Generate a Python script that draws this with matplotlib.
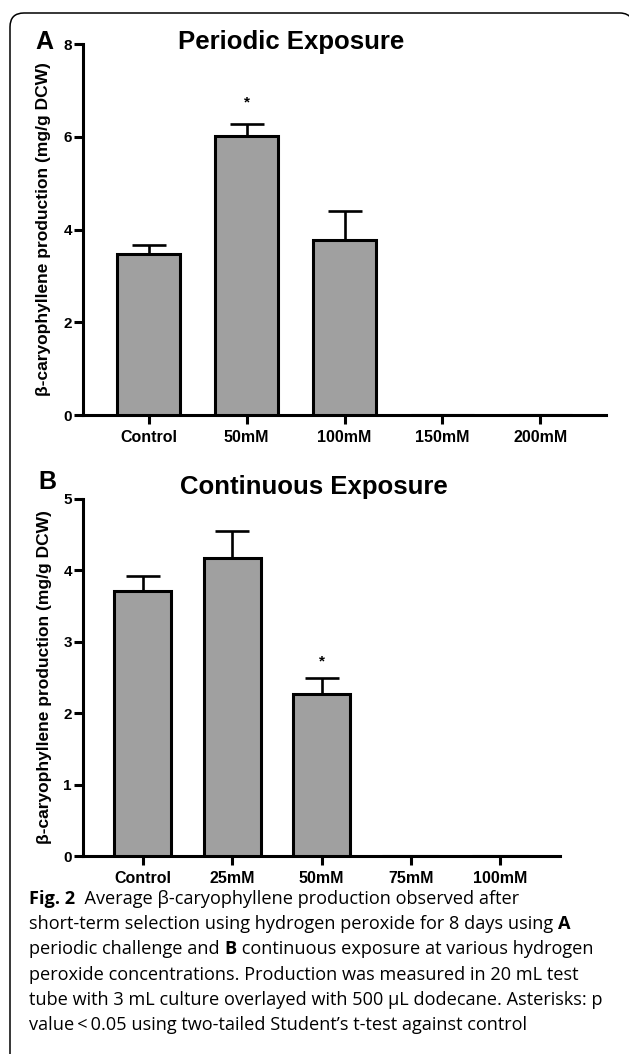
import matplotlib
matplotlib.use("Agg")
import matplotlib.pyplot as plt
import numpy as np
from matplotlib.patches import PathPatch
from matplotlib.path import Path

W, H = 629, 1054

# panel A: periodic exposure
cats_a = ["Control", "50mM", "100mM", "150mM", "200mM"]
vals_a = [3.48, 6.02, 3.77, 0.0, 0.0]
err_a = [0.19, 0.26, 0.62, 0.0, 0.0]
star_a = {1: 6.73}

# panel B: continuous exposure
cats_b = ["Control", "25mM", "50mM", "75mM", "100mM"]
vals_b = [3.71, 4.17, 2.27, 0.0, 0.0]
err_b = [0.21, 0.38, 0.23, 0.0, 0.0]
star_b = {2: 2.72}

ylabel = "β-caryophyllene production (mg/g DCW)"
caption = [
    [("Fig. 2", "bold"), ("  Average β-caryophyllene production observed after", "normal")],
    [("short-term selection using hydrogen peroxide for 8 days using ", "normal"), ("A", "bold")],
    [("periodic challenge and ", "normal"), ("B", "bold"),
     (" continuous exposure at various hydrogen", "normal")],
    [("peroxide concentrations. Production was measured in 20 mL test", "normal")],
    [("tube with 3 mL culture overlayed with 500 µL dodecane. Asterisks: p", "normal")],
    [("value\u2009<\u20090.05 using two-tailed Student’s t-test against control", "normal")],
]

plt.rcParams["font.family"] = ["Liberation Sans", "DejaVu Sans"]
LW = 2.2


def fx(x):
    return x / W


def fy(y):
    return 1 - y / H


def panel(rect_px, cats, vals, errs, stars, ymax, yticks, title, letter, title_xy, letter_xy, lab_x):
    l, t, r, b = rect_px
    ax = fig.add_axes([fx(l), fy(b), fx(r) - fx(l), fy(t) - fy(b)])
    x = np.arange(len(cats))
    ax.errorbar(x, vals, yerr=[np.zeros(len(errs)), errs], fmt="none", ecolor="black",
                elinewidth=1.9, capsize=12, capthick=1.9, zorder=2)
    ax.bar(x, vals, width=0.64, color="#a0a0a0", edgecolor="black", linewidth=LW, zorder=3)
    for i, y in stars.items():
        ax.text(i, y, "*", ha="center", va="center", fontsize=11, fontweight="bold")
    ax.set_xlim(-0.67, len(cats) - 0.33)
    ax.set_ylim(0, ymax)
    ax.set_yticks(yticks)
    ax.set_xticks(x)
    ax.set_xticklabels(cats, fontsize=11.5, fontweight="bold")
    for lab in ax.get_yticklabels():
        lab.set_fontsize(11)
        lab.set_fontweight("bold")
    ax.tick_params(axis="y", width=LW, length=6.5, pad=1.5)
    ax.tick_params(axis="x", width=LW, length=6.5, pad=4)
    for s in ("top", "right"):
        ax.spines[s].set_visible(False)
    for s in ("left", "bottom"):
        ax.spines[s].set_linewidth(LW)
    ax.set_ylabel(ylabel, fontsize=12.5, fontweight="bold", va="center")
    ax.yaxis.set_label_coords((lab_x - l) / (r - l), 0.5)
    fig.text(fx(title_xy[0]), fy(title_xy[1]), title, ha="center", va="center",
             fontsize=18.5, fontweight="bold")
    fig.text(fx(letter_xy[0]), fy(letter_xy[1]), letter, ha="center", va="center",
             fontsize=18, fontweight="bold")
    return ax


fig = plt.figure(figsize=(W / 100, H / 100), dpi=100)

# rounded frame: left side and top edge only, the rest runs off the page
frame = fig.add_axes([0, 0, 1, 1], zorder=-1)
frame.set_xlim(0, W)
frame.set_ylim(H, 0)
frame.axis("off")
verts = [(10, H + 10), (10, 27), (10, 13), (24, 13), (620, 13), (628, 13), (632, 19)]
codes = [Path.MOVETO, Path.LINETO, Path.CURVE3, Path.CURVE3, Path.LINETO, Path.CURVE3, Path.CURVE3]
frame.add_patch(PathPatch(Path(verts, codes), fill=False, edgecolor="black", linewidth=1.1))

panel((83, 44, 606, 415), cats_a, vals_a, err_a, star_a, 8, [0, 2, 4, 6, 8],
      "Periodic Exposure", "A", (291.5, 42), (44, 42), 44)
panel((83, 499, 560, 856), cats_b, vals_b, err_b, star_b, 5, [0, 1, 2, 3, 4, 5],
      "Continuous Exposure", "B", (314, 487), (47, 482), 44)

# caption, written piece by piece so bold words sit inline
fig.canvas.draw()
renderer = fig.canvas.get_renderer()
y0, dy = 899, 25.2
for k, line in enumerate(caption):
    xpos = 29
    for txt, weight in line:
        t = fig.text(fx(xpos), fy(y0 + k * dy), txt, ha="left", va="center",
                     fontsize=13.1, fontweight=weight, family=["Open Sans", "DejaVu Sans"])
        bb = t.get_window_extent(renderer=renderer)
        xpos += bb.width

fig.savefig("out.png", dpi=100)
